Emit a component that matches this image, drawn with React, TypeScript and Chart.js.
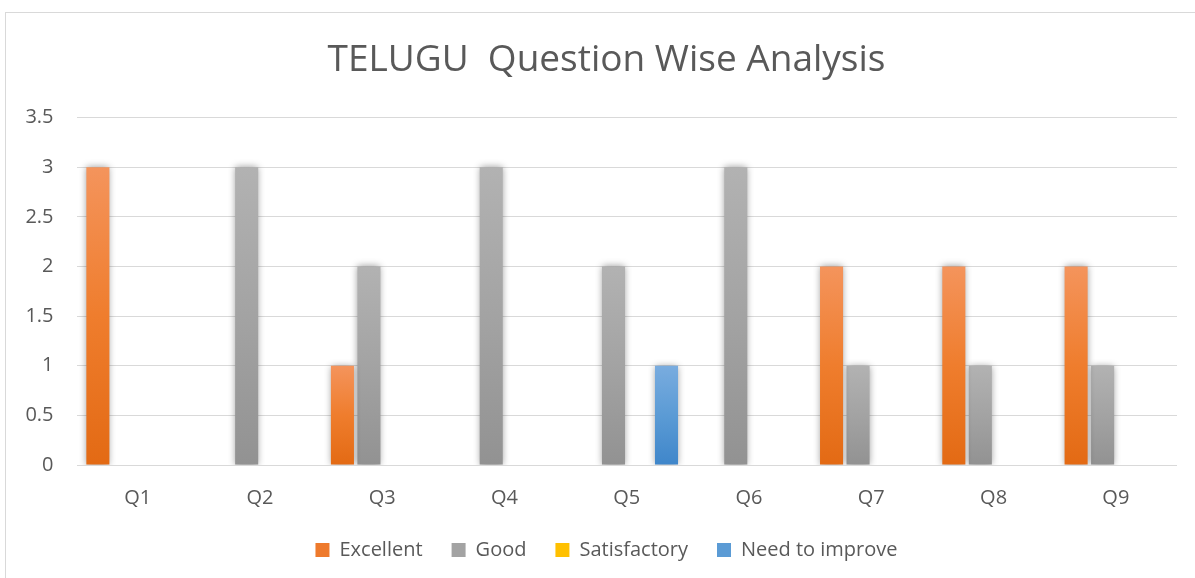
import React, { useEffect, useRef } from "react";
import { Chart, registerables } from "chart.js";

Chart.register(...registerables);

const categories = ["Q1", "Q2", "Q3", "Q4", "Q5", "Q6", "Q7", "Q8", "Q9"];
const excellent = [3, 0, 1, 0, 0, 0, 2, 2, 2];
const good = [0, 3, 2, 3, 2, 3, 1, 1, 1];
const satisfactory = [0, 0, 0, 0, 0, 0, 0, 0, 0];
const needToImprove = [0, 0, 0, 0, 1, 0, 0, 0, 0];
const seriesNames = ["Excellent", "Good", "Satisfactory", "Need to improve"];
const yTicks = [0, 0.5, 1, 1.5, 2, 2.5, 3, 3.5];
const titleText = "TELUGU  Question Wise Analysis";

const palettes = [
  { top: "#F4945C", mid: "#EF7D2D", bottom: "#E36A14", solid: "#EE7A2C" },
  { top: "#B2B2B2", mid: "#A3A3A3", bottom: "#929292", solid: "#A3A3A3" },
  { top: "#FFD34F", mid: "#FFC000", bottom: "#EEB200", solid: "#FFC000" },
  { top: "#79ACDF", mid: "#5B9BD5", bottom: "#3F86CA", solid: "#5B9BD5" },
];

const FONT = "'Open Sans', 'Noto Sans', sans-serif";
const TEXT = "#595959";
const GRID = "#D9D9D9";

function gradient(p: { top: string; mid: string; bottom: string; solid: string }) {
  return (ctx: any) => {
    const chart = ctx.chart;
    const y = chart.scales && chart.scales.y;
    if (!chart.chartArea || !y || ctx.type !== "data") return p.solid;
    const v = ctx.parsed ? ctx.parsed.y : ctx.raw;
    const y0 = y.getPixelForValue(0);
    const y1 = y.getPixelForValue(v || 0);
    if (!isFinite(y0) || !isFinite(y1) || Math.abs(y0 - y1) < 0.5) return p.solid;
    const g = chart.ctx.createLinearGradient(0, y1, 0, y0);
    g.addColorStop(0, p.top);
    g.addColorStop(0.5, p.mid);
    g.addColorStop(1, p.bottom);
    return g;
  };
}

const shadowPlugin = {
  id: "barShadow",
  beforeDatasetDraw(chart: any) {
    const c = chart.ctx;
    c.save();
    c.shadowColor = "rgba(0,0,0,0.4)";
    c.shadowBlur = 7;
    c.shadowOffsetX = 0;
    c.shadowOffsetY = 0;
  },
  afterDatasetDraw(chart: any) {
    chart.ctx.restore();
  },
};

export default function App() {
  const ref = useRef<HTMLCanvasElement | null>(null);

  useEffect(() => {
    if (!ref.current) return;
    const seriesData = [excellent, good, satisfactory, needToImprove];
    const chart = new Chart(ref.current, {
      type: "bar",
      data: {
        labels: categories,
        datasets: seriesNames.map((name, i) => ({
          label: name,
          data: seriesData[i],
          backgroundColor: gradient(palettes[i]),
          borderWidth: 0,
          categoryPercentage: 0.867,
          barPercentage: 0.87,
        })),
      },
      plugins: [shadowPlugin],
      options: {
        responsive: false,
        animation: false,
        layout: { padding: { left: 30, right: 31, top: 0, bottom: 21 } },
        plugins: {
          tooltip: { enabled: false },
          title: {
            display: true,
            text: titleText,
            color: TEXT,
            font: { family: FONT, size: 37, weight: "normal" },
            padding: { top: 25.5, bottom: 34.7 },
          },
          legend: {
            position: "bottom",
            labels: {
              color: TEXT,
              font: { family: FONT, size: 20 },
              boxWidth: 14,
              boxHeight: 14,
              padding: 29,
              generateLabels: (ch: any) => {
                const items = Chart.defaults.plugins.legend.labels.generateLabels(ch);
                return items.map((it: any, i: number) => ({
                  ...it,
                  fillStyle: palettes[i].solid,
                  strokeStyle: "rgba(0,0,0,0)",
                  lineWidth: 0,
                }));
              },
            },
          },
        },
        scales: {
          x: {
            grid: { display: false, drawTicks: false },
            border: { display: false },
            ticks: { color: TEXT, font: { family: FONT, size: 20 }, padding: 21.5 },
            afterFit: (axis: any) => {
              axis.height = 46;
              axis._computeLabelArea = () => undefined;
            },
          },
          y: {
            min: 0,
            max: 3.5,
            afterBuildTicks: (axis: any) => {
              axis.ticks = yTicks.map((v) => ({ value: v }));
            },
            afterFit: (axis: any) => {
              axis.width = 40.5;
              axis._computeLabelArea = () => undefined;
            },
            grid: { color: GRID, lineWidth: 1, drawTicks: false },
            border: { display: false },
            ticks: {
              color: TEXT,
              font: { family: FONT, size: 20 },
              padding: 23,
              callback: (v: any) => String(v),
            },
          },
        },
      },
    });
    return () => chart.destroy();
  }, []);

  return (
    <div
      style={{
        position: "fixed",
        left: 0,
        top: 0,
        width: 1195,
        height: 578,
        overflow: "hidden",
        background: "#fff",
      }}
    >
      <div
        style={{
          position: "absolute",
          left: 5,
          top: 12,
          width: 1202,
          height: 580,
          border: "1px solid #D9D9D9",
          background: "#fff",
        }}
      >
        <canvas ref={ref} width={1202} height={578} style={{ display: "block", width: 1202, height: 578 }} />
      </div>
    </div>
  );
}
